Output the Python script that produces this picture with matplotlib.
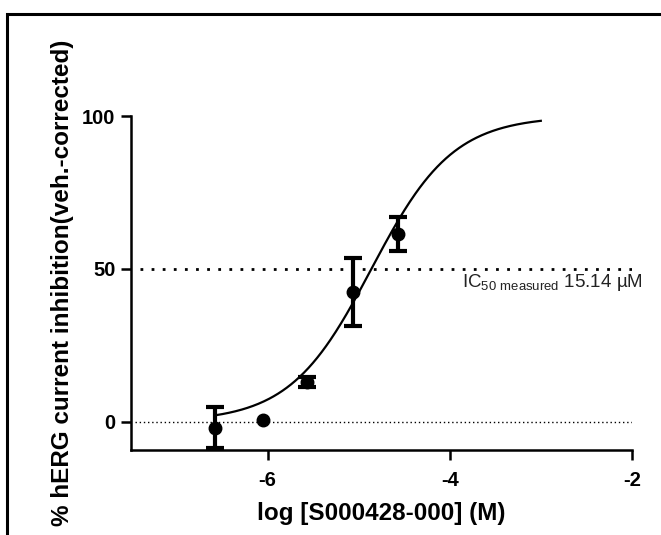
import numpy as np
import matplotlib.pyplot as plt
from matplotlib.patches import Rectangle

plt.rcParams['font.family'] = ['Liberation Sans', 'DejaVu Sans']
plt.rcParams['mathtext.fontset'] = 'custom'
plt.rcParams['mathtext.rm'] = 'Liberation Sans'

# data: log concentration (M), mean % inhibition, SEM
log_conc = [-6.58, -6.05, -5.57, -5.06, -4.57]
inhibition = [-2.0, 0.5, 13.0, 42.5, 61.5]
err = [6.7, 0.0, 1.5, 11.0, 5.5]

# fitted Hill curve parameters
log_ic50 = -4.86
hill = 0.97
bottom, top = 0.0, 100.0
ic50_label = r"IC$_{\mathrm{50\ measured}}$ 15.14 µM"

fig = plt.figure(figsize=(6.61, 5.35), dpi=100)
ax = fig.add_axes([0.198, 0.159, 0.758, 0.624])

# outer frame
fig.patches.append(Rectangle((7 / 661, -0.1), 1.2, (535 - 14) / 535 + 0.1,
                             transform=fig.transFigure, fill=False,
                             edgecolor="black", linewidth=2.2))

xs = np.linspace(log_conc[0], -3.0, 300)
ys = bottom + (top - bottom) / (1 + 10 ** ((log_ic50 - xs) * hill))
ax.plot(xs, ys, color="black", linewidth=1.6, zorder=3)

has_err = [e > 0 for e in err]
ax.errorbar([x for x, h in zip(log_conc, has_err) if h],
            [y for y, h in zip(inhibition, has_err) if h],
            yerr=[e for e in err if e > 0], fmt="none", ecolor="black",
            elinewidth=3, capsize=6.5, capthick=3, zorder=4, clip_on=False)
ax.plot(log_conc, inhibition, "o", color="black", markersize=9, zorder=5,
        clip_on=False)

ax.plot([-7.4, -2.0], [50, 50], color="black", linewidth=2,
        linestyle=(0, (1, 3)), zorder=2)
ax.plot([-7.45, -2.0], [0, 0], color="black", linewidth=1,
        linestyle=(0, (1, 2)), zorder=2)

ax.text(-3.86, 45.5, ic50_label, fontsize=13.5, color="#222222",
        ha="left", va="center")

ax.set_xlim(-7.5, -2.0)
ax.set_ylim(-9.2, 100)
ax.set_xticks([-6, -4, -2])
ax.set_yticks([0, 50, 100])
ax.set_xticklabels(["-6", "-4", "-2"])
ax.set_yticklabels(["0", "50", "100"])

for side in ["top", "right"]:
    ax.spines[side].set_visible(False)
for side in ["left", "bottom"]:
    ax.spines[side].set_linewidth(1.8)
ax.tick_params(width=1.8, length=7, labelsize=14.5)
ax.tick_params(axis="x", pad=8)
ax.tick_params(axis="y", pad=4)
for lbl in ax.get_xticklabels() + ax.get_yticklabels():
    lbl.set_fontweight("bold")

ax.set_xlabel("log [S000428-000] (M)", fontsize=17.5, fontweight="bold", labelpad=9)
ax.set_ylabel("% hERG current inhibition(veh.-corrected)", fontsize=17.5,
              fontweight="bold", labelpad=6)

fig.savefig("out.png", dpi=100)
